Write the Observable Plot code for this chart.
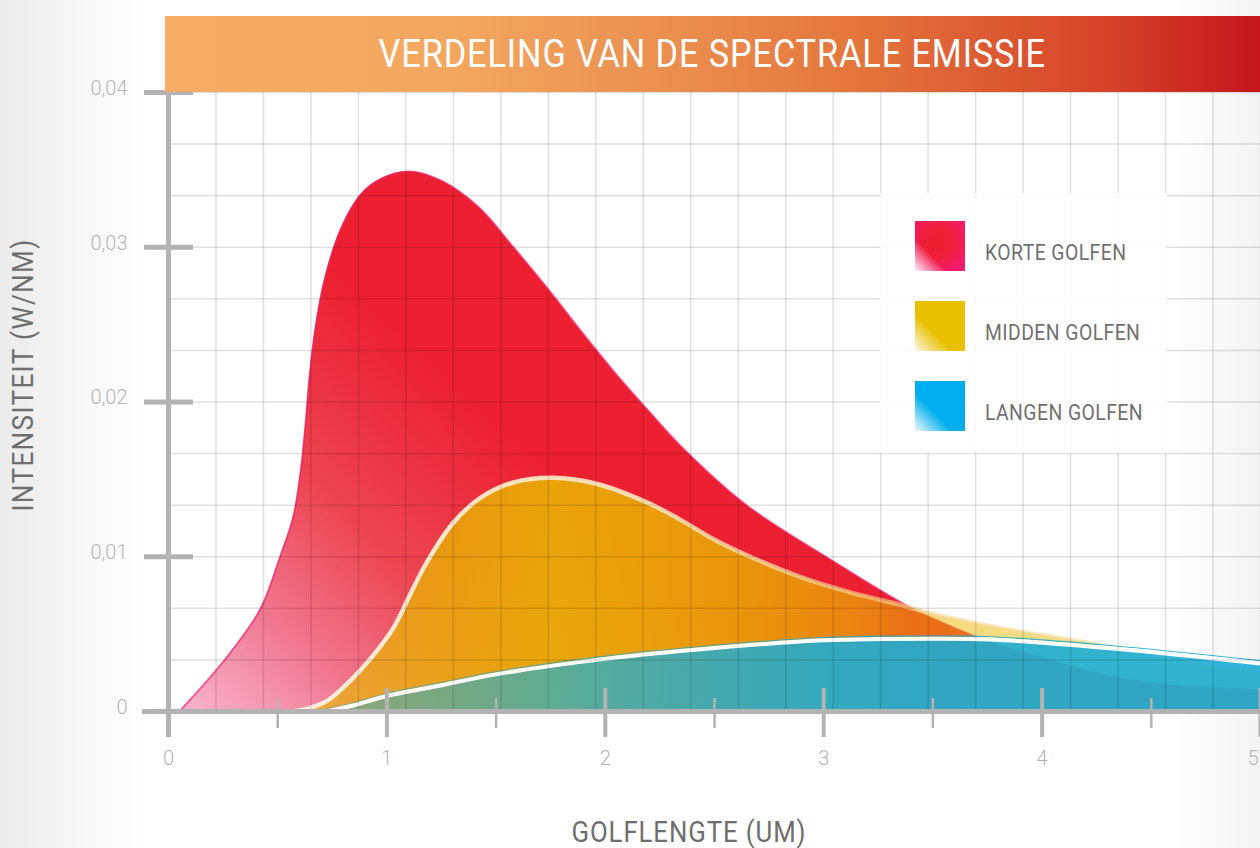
<!DOCTYPE html>
<html>
<head>
<meta charset="utf-8">
<script src="https://cdn.jsdelivr.net/npm/d3@7"></script>
<script src="https://cdn.jsdelivr.net/npm/@observablehq/plot@0.6"></script>
<style>
html, body { margin: 0; padding: 0; width: 1260px; height: 848px; overflow: hidden; }
body {
  position: relative;
  background: linear-gradient(to right, #ebebeb 0px, #f7f7f7 80px, #ffffff 150px, #ffffff 1170px, #f3f3f3 1260px);
  font-family: "Roboto", "Liberation Sans", sans-serif;
}
#chart { position: absolute; left: 0; top: 0; }
.cond { display: inline-block; white-space: nowrap; }
.title {
  position: absolute; left: 165px; top: 16px; width: 1095px; height: 76px;
  background: linear-gradient(to right, #f5ad63 0%, #f4a85f 25%, #eb9050 45%, #e4783c 62%, #d6452a 85%, #c4161c 100%);
  color: #ffffff; font-size: 39px; letter-spacing: 1px;
  display: flex; align-items: center; justify-content: center;
}
.title .cond { transform: scaleX(0.88); }
.ytitle {
  position: absolute; left: 23px; top: 375px; transform: translate(-50%, -50%) rotate(-90deg);
  white-space: nowrap; font-size: 29px; color: #6e6e6e; letter-spacing: 1.5px;
}
.ytitle .cond { transform: scaleX(0.9); }
.xtitle {
  position: absolute; left: 689px; top: 832px; transform: translate(-50%, -50%);
  white-space: nowrap; font-size: 29px; color: #6e6e6e; letter-spacing: 1px;
}
.xtitle .cond { transform: scaleX(0.89); }
.legend {
  position: absolute; left: 880px; top: 193px; width: 287px; height: 260px;
  background: rgba(255,255,255,0.9);
}
.item { position: absolute; left: 35px; height: 50px; width: 250px; }
.sw { position: absolute; left: 0; top: 0; width: 50px; height: 50px; }
.lab { position: absolute; left: 70px; top: 0; height: 50px; line-height: 50px; font-size: 22px; color: #707070; white-space: nowrap; padding-top: 7px; box-sizing: border-box; letter-spacing: 0.5px; }
.lab .cond { transform: scaleX(0.88); transform-origin: left center; }
</style>
</head>
<body>
<div id="chart"></div>
<div class="title"><span class="cond" id="title"></span></div>
<div class="ytitle"><span class="cond" id="ytitle"></span></div>
<div class="xtitle"><span class="cond" id="xtitle"></span></div>
<div class="legend" id="legend"></div>
<script>
// ---- Text ----
const titleText = "VERDELING VAN DE SPECTRALE EMISSIE";
const xTitle = "GOLFLENGTE (UM)";
const yTitle = "INTENSITEIT (W/NM)";
const seriesNames = ["KORTE GOLFEN", "MIDDEN GOLFEN", "LANGEN GOLFEN"];

// ---- Ticks ----
const xTicks = [0, 1, 2, 3, 4, 5];
const xTickLabels = ["0", "1", "2", "3", "4", "5"];
const xMinorTicks = [0.5, 1.5, 2.5, 3.5, 4.5];
const yTicks = [0, 0.01, 0.02, 0.03, 0.04];
const yTickLabels = ["0", "0,01", "0,02", "0,03", "0,04"];
const gridXStep = 5 / 23;      // decorative grid
const gridYStep = 0.01 / 3;

// ---- Series: KORTE GOLFEN (red) ----
const redX = [0.05, 0.25, 0.42, 0.51, 0.57, 0.605, 0.627, 0.645, 0.675, 0.72, 0.79, 0.88, 0.97, 1.098, 1.25, 1.42, 1.58, 1.75, 1.9, 2.05, 2.2, 2.35, 2.65, 3.016, 3.405, 3.684, 3.76, 3.99, 4.30, 4.60, 5.0];
const redY = [0, 0.0032, 0.0066, 0.00995, 0.0125, 0.0155, 0.0185, 0.0215, 0.0250, 0.0282, 0.0312, 0.0334, 0.0344, 0.0349, 0.0343, 0.0326, 0.0300, 0.0271, 0.0244, 0.0218, 0.0194, 0.0171, 0.0133, 0.00995, 0.00666, 0.0049, 0.00446, 0.0035, 0.0023, 0.0017, 0.00136];

// ---- Series: MIDDEN GOLFEN (yellow) ----
const yelX = [0.57, 0.64, 0.728, 0.833, 0.93, 1.03, 1.108, 1.185, 1.304, 1.428, 1.579, 1.762, 1.963, 2.192, 2.343, 2.5, 2.664, 2.892, 3.121, 3.35, 3.50, 3.81, 4.265, 4.6, 5.0];
const yelY = [0, 0.0002, 0.0007, 0.0020, 0.0035, 0.0054, 0.0076, 0.0097, 0.0122, 0.0138, 0.0148, 0.0151, 0.0147, 0.0135, 0.0124, 0.0111, 0.0100, 0.0087, 0.0077, 0.0069, 0.0063, 0.0054, 0.0043, 0.0033, 0.0025];

// ---- Series: LANGEN GOLFEN (blue) ----
const bluX = [0.72, 0.85, 1.0, 1.25, 1.5, 2.0, 2.5, 3.0, 3.5, 3.76, 4.3, 5.0];
const bluY = [0, 0.0004, 0.0010, 0.0017, 0.0024, 0.0034, 0.0041, 0.0046, 0.0047, 0.00465, 0.0041, 0.0031];

const red = redX.map((x, i) => ({x, y: redY[i]}));
const yel = yelX.map((x, i) => ({x, y: yelY[i]}));
const blu = bluX.map((x, i) => ({x, y: bluY[i]}));
const gridXs = d3.range(0, 24).map(i => i * gridXStep);
const gridYs = d3.range(0, 13).map(i => i * gridYStep);

function gradients() {
  const defs = document.createElementNS("http://www.w3.org/2000/svg", "defs");
  defs.innerHTML = `
    <linearGradient id="gRed" gradientUnits="userSpaceOnUse" x1="180" y1="711" x2="470" y2="400">
      <stop offset="0" stop-color="#f9b6d0"/>
      <stop offset="0.3" stop-color="#f07890"/>
      <stop offset="0.6" stop-color="#ed4552"/>
      <stop offset="1" stop-color="#ec2030"/>
    </linearGradient>
    <linearGradient id="gYel" gradientUnits="userSpaceOnUse" x1="293" y1="0" x2="1260" y2="0">
      <stop offset="0" stop-color="#e9b800" stop-opacity="0.6"/>
      <stop offset="0.12" stop-color="#e9b800" stop-opacity="0.72"/>
      <stop offset="0.27" stop-color="#e9b800" stop-opacity="0.86"/>
      <stop offset="0.45" stop-color="#e9b800" stop-opacity="0.78"/>
      <stop offset="0.58" stop-color="#e9b800" stop-opacity="0.66"/>
      <stop offset="0.64" stop-color="#e9b800" stop-opacity="0.52"/>
      <stop offset="1" stop-color="#e9b800" stop-opacity="0.45"/>
    </linearGradient>
    <linearGradient id="gYelStroke" gradientUnits="userSpaceOnUse" x1="293" y1="0" x2="1260" y2="0">
      <stop offset="0" stop-color="#fff2e2" stop-opacity="0.95"/>
      <stop offset="0.35" stop-color="#fbe6c0" stop-opacity="0.9"/>
      <stop offset="0.6" stop-color="#f6d690" stop-opacity="0.6"/>
      <stop offset="1" stop-color="#f6e2a0" stop-opacity="0.5"/>
    </linearGradient>
    <linearGradient id="gBlu" gradientUnits="userSpaceOnUse" x1="320" y1="0" x2="1260" y2="0">
      <stop offset="0" stop-color="#1aadd6" stop-opacity="0.42"/>
      <stop offset="0.3" stop-color="#1aadd6" stop-opacity="0.72"/>
      <stop offset="0.55" stop-color="#1aadd6" stop-opacity="0.88"/>
      <stop offset="1" stop-color="#1aadd6" stop-opacity="0.9"/>
    </linearGradient>`;
  return defs;
}

const curve = "catmull-rom";
const axisColor = "#b3b3b3";

const plot = Plot.plot({
  width: 1260,
  height: 848,
  marginLeft: 168,
  marginRight: 0,
  marginTop: 92,
  marginBottom: 137,
  x: {domain: [0, 5], axis: null},
  y: {domain: [0, 0.04], axis: null},
  style: {background: "transparent", overflow: "visible"},
  marks: [
    gradients,
    Plot.areaY(red, {x: "x", y: "y", fill: "url(#gRed)", curve}),
    Plot.line(red, {x: "x", y: "y", stroke: "#f0206a", strokeWidth: 2, strokeOpacity: 0.6, curve}),
    Plot.areaY(yel, {x: "x", y: "y", fill: "url(#gYel)", curve}),
    Plot.line(yel, {x: "x", y: "y", stroke: "url(#gYelStroke)", strokeWidth: 4.5, curve}),
    Plot.areaY(blu, {x: "x", y: "y", fill: "url(#gBlu)", curve}),
    Plot.line(blu, {x: "x", y: "y", stroke: "url(#gBlu)", strokeWidth: 1.2, dy: -2.8, curve}),
    Plot.line(blu, {x: "x", y: "y", stroke: "#ffffff", strokeWidth: 4, curve}),
    Plot.gridX(gridXs, {stroke: "#000000", strokeOpacity: 0.12, strokeWidth: 1.5}),
    Plot.gridY(gridYs, {stroke: "#000000", strokeOpacity: 0.12, strokeWidth: 1.5}),
    // axis lines
    Plot.ruleX([0], {stroke: axisColor, strokeWidth: 5, insetBottom: -26}),
    Plot.ruleY([0], {stroke: axisColor, strokeWidth: 5, insetLeft: -26}),
    // x ticks (both sides of the axis)
    Plot.ruleX(xTicks.slice(1), {x: d => d, y1: () => 0, y2: () => 0, stroke: axisColor, strokeWidth: 4, insetTop: -23, insetBottom: -26}),
    Plot.ruleX(xMinorTicks, {x: d => d, y1: () => 0, y2: () => 0, stroke: axisColor, strokeWidth: 2.5, insetTop: -13, insetBottom: -17}),
    // y ticks
    Plot.ruleY(yTicks.slice(1), {y: d => d, x1: () => 0, x2: () => 0, stroke: axisColor, strokeWidth: 5, insetLeft: -24, insetRight: -25}),
    // tick labels
    Plot.text(xTicks.slice(0, 5), {x: d => d, y: () => 0, text: (d, i) => xTickLabels[i], dy: 47, fontSize: 20, fill: "#b5b5b5", fontFamily: "Roboto", fontWeight: 300}),
    Plot.text(xTicks.slice(5), {x: d => d, y: () => 0, text: () => xTickLabels[5], dy: 47, dx: -2, textAnchor: "end", fontSize: 20, fill: "#b5b5b5", fontFamily: "Roboto", fontWeight: 300}),
    Plot.text(yTicks, {x: () => 0, y: d => d, text: (d, i) => yTickLabels[i], dx: -41, dy: -4, textAnchor: "end", fontSize: 20, fill: "#b5b5b5", fontFamily: "Roboto", fontWeight: 300})
  ]
});
document.getElementById("chart").appendChild(plot);

document.getElementById("title").textContent = titleText;
document.getElementById("xtitle").textContent = xTitle;
document.getElementById("ytitle").textContent = yTitle;

const swatchBg = [
  "linear-gradient(45deg, rgba(255,255,255,0.95) 0%, rgba(255,255,255,0) 32%), radial-gradient(circle at 45% 42%, #ec1f2b 0%, #ee1f38 35%, #f51a6c 80%)",
  "linear-gradient(45deg, rgba(255,255,255,0.9) 0%, rgba(255,255,255,0) 38%), linear-gradient(#e8c000, #e8c000)",
  "linear-gradient(45deg, rgba(255,255,255,0.95) 0%, rgba(255,255,255,0) 38%), linear-gradient(#00aeef, #00aeef)"
];
const itemTops = [28, 108, 188];
const legend = document.getElementById("legend");
seriesNames.forEach((name, i) => {
  const item = document.createElement("div");
  item.className = "item";
  item.style.top = itemTops[i] + "px";
  const sw = document.createElement("div");
  sw.className = "sw";
  sw.style.background = swatchBg[i];
  const lab = document.createElement("div");
  lab.className = "lab";
  const span = document.createElement("span");
  span.className = "cond";
  span.textContent = name;
  lab.appendChild(span);
  item.appendChild(sw);
  item.appendChild(lab);
  legend.appendChild(item);
});
</script>
</body>
</html>
